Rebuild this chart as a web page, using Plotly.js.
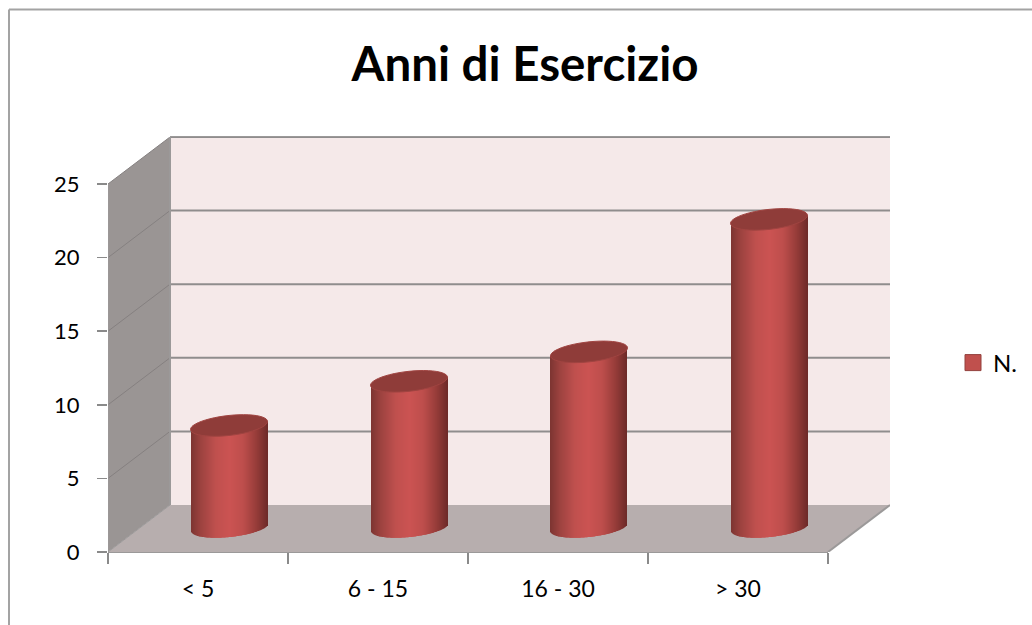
<!DOCTYPE html>
<html>
<head>
<meta charset="utf-8">
<script src="https://cdn.plot.ly/plotly-3.0.1.min.js"></script>
<style>html,body{margin:0;padding:0;background:#fff;overflow:hidden}</style>
</head>
<body>
<div id="chart" style="width:1032px;height:625px"></div>
<script>
// Values of the chart
const categories = ['< 5', '6 - 15', '16 - 30', '> 30'];
const seriesName = 'N.';
const seriesValues = [7, 10, 12, 21];
const yTicks = [0, 5, 10, 15, 20, 25];
const chartTitle = 'Anni di Esercizio';

// Frame of the pseudo-3D box, in pixels
const plot = {left: 108, right: 890, top: 137, bottom: 552};
const pxPerCat = 180, pxPerUnit = 14.72;
const depthX = 62 / pxPerCat, depthY = 47 / pxPerUnit;
const xMax = (plot.right - plot.left) / pxPerCat;
const yMax = (plot.bottom - plot.top) / pxPerUnit;

// Cylinder geometry, in axis units
const radiusPx = 38.5;
const radiusX = radiusPx / pxPerCat, radiusY = 10 / pxPerUnit, tilt = 4 / pxPerUnit;
const centerShiftX = 31 / pxPerCat, footShiftY = 25 / pxPerUnit, topShiftY = 23.5 / pxPerUnit;
const stripCount = 77;

// Horizontal shading across a cylinder, from left edge to right edge
const shade = [
  [-1.00, [124, 52, 49]], [-0.75, [156, 66, 63]], [-0.35, [192, 80, 78]],
  [0.00, [203, 83, 82]], [0.35, [190, 78, 76]], [0.70, [150, 60, 57]], [1.00, [108, 42, 40]]
];
function shadeAt(u) {
  for (let k = 1; k < shade.length; k++) {
    if (u <= shade[k][0]) {
      const a = shade[k - 1], b = shade[k], f = (u - a[0]) / (b[0] - a[0]);
      const c = a[1].map((v, j) => Math.round(v + (b[1][j] - v) * f));
      return 'rgb(' + c.join(',') + ')';
    }
  }
  return 'rgb(108,42,40)';
}

// Each cylinder body is a run of thin bars, snapped to whole pixels, whose foot follows the lower ellipse
const sx = [], sBase = [], sHeight = [], sColor = [], sWidth = [];
seriesValues.forEach((v, i) => {
  const leftPx = Math.round((i + 0.5 + centerShiftX) * pxPerCat - radiusPx);
  for (let s = 0; s < stripCount; s++) {
    const u = -1 + (2 * s + 1) / stripCount;
    const foot = footShiftY + tilt * u - radiusY * Math.sqrt(1 - u * u);
    sx.push((leftPx + s) / pxPerCat);
    sBase.push(foot);
    sHeight.push(v + topShiftY + tilt * u - foot);
    sColor.push(shadeAt(u));
    sWidth.push((s === stripCount - 1 ? 1 : 2) / pxPerCat);
  }
});

function ellipsePath(cx, cy) {
  let d = '';
  for (let k = 0; k <= 48; k++) {
    const t = k / 48 * 2 * Math.PI;
    const x = cx + radiusX * Math.cos(t);
    const y = cy + tilt * Math.cos(t) + radiusY * Math.sin(t);
    d += (k ? 'L' : 'M') + x + ',' + y;
  }
  return d + 'Z';
}
function poly(points) {
  return 'M' + points.map(p => p.join(',')).join('L') + 'Z';
}

const wallLine = '#8f8d8d', sideLine = '#858080', edgeLine = '#9b9999';
const shapes = [
  // back wall, side wall, floor
  {type: 'path', layer: 'below', path: poly([[depthX, depthY], [xMax, depthY], [xMax, yMax], [depthX, yMax]]),
   fillcolor: '#f5e9e9', line: {width: 0}},
  {type: 'path', layer: 'below', path: poly([[0, 0], [depthX, depthY], [depthX, yMax], [0, 25]]),
   fillcolor: '#9a9594', line: {width: 0}},
  {type: 'path', layer: 'below', path: poly([[0, 0], [4, 0], [xMax, depthY], [depthX, depthY]]),
   fillcolor: '#b7aeae', line: {width: 0}}
];
yTicks.slice(1).forEach(v => {
  shapes.push({type: 'line', layer: 'below', x0: depthX, x1: xMax, y0: v + depthY, y1: v + depthY,
               line: {color: wallLine, width: 2}});
  shapes.push({type: 'line', layer: 'below', x0: 0, x1: depthX, y0: v, y1: v + depthY,
               line: {color: sideLine, width: 1}});
});
shapes.push(
  {type: 'line', layer: 'below', x0: depthX, x1: depthX, y0: depthY, y1: yMax, line: {color: edgeLine, width: 2}},
  {type: 'line', layer: 'below', x0: 4, x1: xMax, y0: 0, y1: depthY, line: {color: edgeLine, width: 2}},
  {type: 'line', layer: 'below', x0: 0, x1: depthX, y0: 0, y1: depthY, line: {color: edgeLine, width: 1}},
  {type: 'line', layer: 'below', xref: 'x', yref: 'paper', x0: 0, x1: 4, y0: 0, y1: 0, line: {color: edgeLine, width: 2}},
  {type: 'line', layer: 'below', xref: 'x', yref: 'paper', x0: depthX, x1: xMax, y0: 1, y1: 1, line: {color: edgeLine, width: 2}},
  {type: 'line', layer: 'below', x0: 0, x1: 0, y0: 0, y1: 25, line: {color: edgeLine, width: 1}}
);
seriesValues.forEach((v, i) => {
  shapes.push({type: 'path', layer: 'above',
    path: ellipsePath(i + 0.5 + centerShiftX, v + topShiftY),
    fillcolor: '#8f3c39', line: {color: '#a04441', width: 1}});
});
// Outer chart frame: only its top and left edges fall inside the page
const frameX = (9 - plot.left) / (plot.right - plot.left);
const frameY = 1 + (plot.top - 9.5) / (plot.bottom - plot.top);
shapes.push(
  {type: 'line', xref: 'paper', yref: 'paper', x0: frameX, x1: 1.3, y0: frameY, y1: frameY, line: {color: '#a3a3a3', width: 2}},
  {type: 'line', xref: 'paper', yref: 'paper', x0: frameX, x1: frameX, y0: -0.3, y1: frameY, line: {color: '#a3a3a3', width: 2}}
);

const font = 'Lato, "Open Sans", sans-serif';
const traces = [
  {type: 'bar', x: sx, y: sHeight, base: sBase, width: sWidth, offset: 0,
   marker: {color: sColor, line: {width: 0}}, showlegend: false, hoverinfo: 'skip', xaxis: 'x', yaxis: 'y'},
  {type: 'scatter', mode: 'markers', x: [null], y: [null], name: seriesName,
   marker: {symbol: 'square', size: 16, color: '#c0504d', line: {color: '#93403d', width: 1}}},
  // carries the category labels, centred between the tick marks
  {type: 'scatter', mode: 'markers', x: [null], y: [null], xaxis: 'x2', showlegend: false, hoverinfo: 'skip'}
];

const layout = {
  width: 1032, height: 625,
  margin: {l: plot.left, r: 1032 - plot.right, t: plot.top, b: 625 - plot.bottom, pad: 0},
  paper_bgcolor: '#fff', plot_bgcolor: 'rgba(0,0,0,0)',
  font: {family: font, color: '#000'},
  title: {text: '<b>' + chartTitle + '</b>', x: 525 / 1032, xanchor: 'center', xref: 'container',
          y: 1 - 64 / 625, yanchor: 'middle', yref: 'container', font: {family: font, size: 47.5, color: '#000'}},
  showlegend: true,
  legend: {x: 953 / 1032, xref: 'container', xanchor: 'left', y: 1 - 363 / 625, yref: 'container', yanchor: 'middle',
           bgcolor: 'rgba(0,0,0,0)', font: {family: font, size: 24, color: '#000'}, itemsizing: 'trace', itemwidth: 30},
  barmode: 'overlay',
  xaxis: {range: [0, xMax], tickmode: 'array', tickvals: [0, 1, 2, 3, 4], ticktext: ['', '', '', '', ''],
          ticks: 'outside', ticklen: 11, tickcolor: '#8a8a8a', tickwidth: 1.5, showgrid: false, zeroline: false, showline: false},
  xaxis2: {range: [0, xMax], overlaying: 'x', side: 'bottom', anchor: 'y', tickmode: 'array',
           tickvals: categories.map((c, i) => i + 0.5), ticktext: categories, ticks: '', ticklabelstandoff: 21,
           tickfont: {family: font, size: 23, color: '#000'}, showgrid: false, zeroline: false, showline: false},
  yaxis: {range: [0, yMax], tickmode: 'array', tickvals: yTicks, ticks: 'outside', ticklen: 10, tickcolor: '#8a8a8a', tickwidth: 1.5,
          ticklabelstandoff: 13, tickfont: {family: font, size: 22, color: '#000'}, showgrid: false, zeroline: false, showline: false},
  shapes: shapes
};
Plotly.newPlot('chart', traces, layout, {displayModeBar: false, staticPlot: true});
</script>
</body>
</html>
